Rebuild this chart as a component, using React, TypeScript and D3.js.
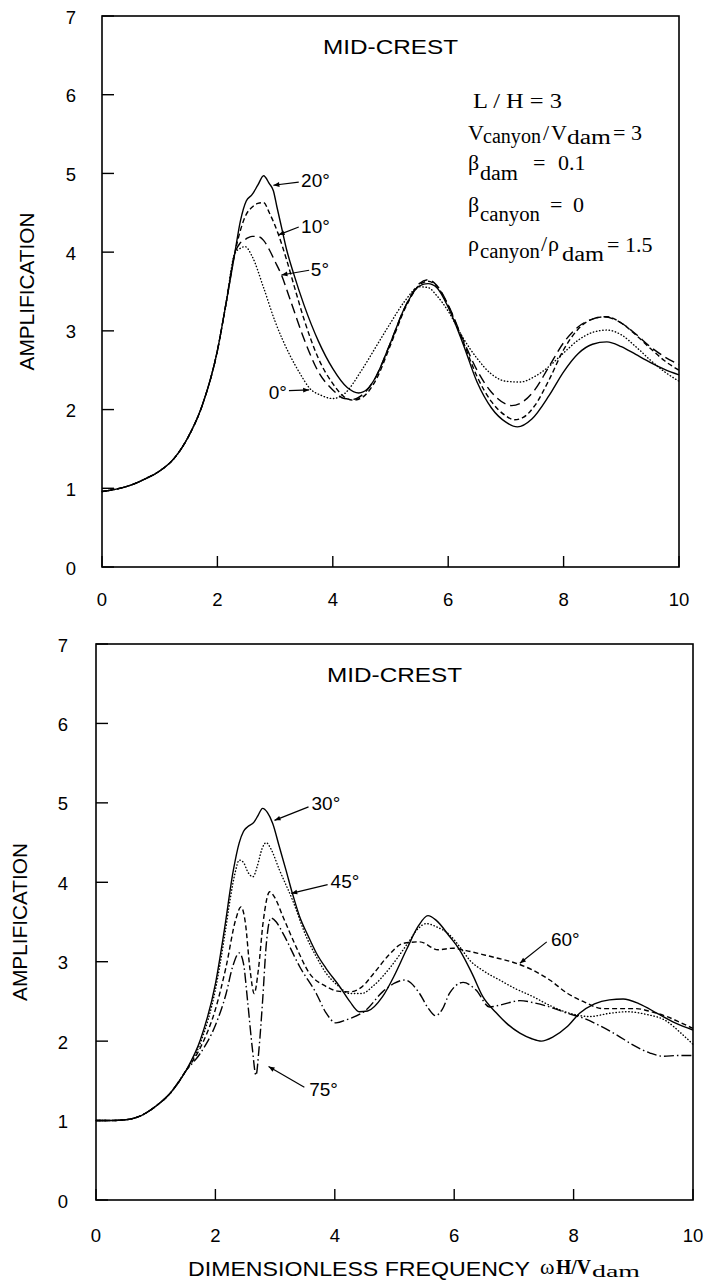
import React from 'react';
import * as d3 from 'd3';

type Pt = [number, number];

// ---------- axis ticks ----------
const xTicks = [0, 2, 4, 6, 8, 10];
const yTicks = [0, 1, 2, 3, 4, 5, 6, 7];

// ---------- top panel (angles 0, 5, 10, 20 deg) ----------
const topRise: Pt[] = [[0, 0.96], [0.25, 0.99], [0.5, 1.04], [0.75, 1.12], [1, 1.22], [1.25, 1.38], [1.5, 1.66], [1.75, 2.08], [2, 2.75], [2.15, 3.35], [2.3, 3.98]];

const top20: Pt[] = [...topRise, [2.4, 4.4], [2.5, 4.65], [2.6, 4.73], [2.7, 4.85], [2.8, 4.97], [2.9, 4.87], [2.97, 4.78], [3.03, 4.58], [3.11, 4.32], [3.2, 4.03], [3.32, 3.73], [3.5, 3.33], [3.75, 2.87], [4.0, 2.52], [4.25, 2.28], [4.45, 2.21], [4.6, 2.26], [4.75, 2.42], [5.0, 2.85], [5.25, 3.3], [5.5, 3.57], [5.65, 3.6], [5.8, 3.55], [6.0, 3.3], [6.25, 2.85], [6.5, 2.35], [6.75, 2.02], [7.0, 1.84], [7.2, 1.78], [7.45, 1.88], [7.75, 2.18], [8.0, 2.48], [8.25, 2.71], [8.5, 2.83], [8.75, 2.86], [9.0, 2.8], [9.25, 2.7], [9.5, 2.6], [9.75, 2.51], [10, 2.44]];

const top10: Pt[] = [...topRise, [2.4, 4.28], [2.5, 4.48], [2.6, 4.57], [2.7, 4.62], [2.8, 4.63], [2.9, 4.5], [3.06, 4.22], [3.2, 3.9], [3.35, 3.52], [3.5, 3.15], [3.75, 2.65], [4.0, 2.33], [4.2, 2.16], [4.35, 2.12], [4.5, 2.15], [4.75, 2.38], [5.0, 2.82], [5.25, 3.28], [5.5, 3.58], [5.65, 3.63], [5.8, 3.57], [6.0, 3.32], [6.25, 2.88], [6.5, 2.42], [6.75, 2.1], [7.0, 1.92], [7.15, 1.87], [7.3, 1.9], [7.5, 2.05], [7.75, 2.38], [8.0, 2.76], [8.25, 3.02], [8.5, 3.15], [8.75, 3.18], [9.0, 3.1], [9.25, 2.95], [9.5, 2.78], [9.75, 2.62], [10, 2.5]];

const top5: Pt[] = [...topRise, [2.4, 4.12], [2.5, 4.17], [2.6, 4.2], [2.7, 4.2], [2.8, 4.15], [2.9, 4.03], [3.0, 3.88], [3.11, 3.71], [3.25, 3.42], [3.5, 2.9], [3.75, 2.48], [4.0, 2.25], [4.2, 2.14], [4.35, 2.13], [4.5, 2.18], [4.75, 2.42], [5.0, 2.85], [5.25, 3.3], [5.5, 3.6], [5.65, 3.65], [5.8, 3.58], [6.0, 3.33], [6.25, 2.9], [6.5, 2.5], [6.75, 2.22], [7.0, 2.07], [7.1, 2.05], [7.25, 2.08], [7.5, 2.25], [7.75, 2.55], [8.0, 2.85], [8.25, 3.05], [8.5, 3.15], [8.7, 3.18], [9.0, 3.1], [9.25, 2.96], [9.5, 2.8], [9.75, 2.67], [10, 2.57]];

const top0: Pt[] = [...topRise, [2.4, 4.05], [2.48, 4.07], [2.6, 3.95], [2.8, 3.55], [3.0, 3.12], [3.25, 2.7], [3.43, 2.46], [3.6, 2.27], [3.8, 2.18], [4.0, 2.14], [4.2, 2.2], [4.5, 2.5], [4.75, 2.8], [5.0, 3.1], [5.25, 3.38], [5.5, 3.56], [5.65, 3.55], [5.8, 3.45], [6.0, 3.25], [6.25, 2.92], [6.5, 2.65], [6.75, 2.45], [7.0, 2.36], [7.25, 2.35], [7.5, 2.42], [7.75, 2.55], [8.0, 2.72], [8.25, 2.88], [8.5, 2.98], [8.75, 3.01], [9.0, 2.95], [9.25, 2.8], [9.5, 2.63], [9.75, 2.48], [10, 2.36]];

// ---------- bottom panel (angles 30, 45, 60, 75 deg) ----------
const botRise: Pt[] = [[0, 1.0], [0.25, 1.0], [0.5, 1.01], [0.75, 1.06], [1.0, 1.18], [1.25, 1.35], [1.5, 1.62]];

const b30: Pt[] = [...botRise, [1.75, 2.02], [2.0, 2.72], [2.15, 3.4], [2.3, 4.15], [2.4, 4.5], [2.47, 4.64], [2.54, 4.7], [2.65, 4.76], [2.72, 4.85], [2.79, 4.93], [2.87, 4.88], [2.96, 4.74], [3.07, 4.45], [3.18, 4.16], [3.29, 3.86], [3.41, 3.57], [3.55, 3.33], [3.69, 3.11], [3.85, 2.92], [4.08, 2.69], [4.25, 2.5], [4.41, 2.37], [4.55, 2.38], [4.8, 2.56], [5.0, 2.83], [5.2, 3.15], [5.4, 3.45], [5.56, 3.58], [5.7, 3.52], [5.92, 3.32], [6.09, 3.15], [6.3, 2.85], [6.48, 2.56], [6.7, 2.36], [6.87, 2.23], [7.1, 2.1], [7.3, 2.03], [7.46, 2.0], [7.65, 2.05], [7.89, 2.18], [8.1, 2.35], [8.35, 2.47], [8.6, 2.52], [8.83, 2.53], [9.1, 2.47], [9.4, 2.35], [9.7, 2.23], [10, 2.14]];

const b45: Pt[] = [...botRise, [1.75, 1.98], [2.0, 2.65], [2.15, 3.3], [2.25, 3.8], [2.33, 4.12], [2.4, 4.28], [2.47, 4.25], [2.55, 4.12], [2.63, 4.07], [2.7, 4.2], [2.78, 4.42], [2.85, 4.5], [2.93, 4.42], [3.07, 4.16], [3.29, 3.78], [3.52, 3.32], [3.7, 3.05], [3.85, 2.86], [4.05, 2.7], [4.25, 2.6], [4.45, 2.6], [4.65, 2.7], [4.92, 2.92], [5.22, 3.23], [5.4, 3.42], [5.53, 3.48], [5.7, 3.44], [5.92, 3.34], [6.1, 3.18], [6.26, 3.02], [6.5, 2.88], [6.76, 2.77], [7.0, 2.67], [7.32, 2.56], [7.6, 2.45], [7.94, 2.35], [8.27, 2.31], [8.6, 2.35], [8.89, 2.37], [9.2, 2.34], [9.56, 2.25], [9.8, 2.1], [10, 1.96]];

const b60: Pt[] = [...botRise, [1.75, 1.92], [2.0, 2.4], [2.18, 2.94], [2.34, 3.53], [2.43, 3.69], [2.5, 3.5], [2.58, 2.9], [2.65, 2.6], [2.72, 2.9], [2.8, 3.5], [2.91, 3.88], [3.0, 3.8], [3.13, 3.57], [3.35, 3.19], [3.57, 2.86], [3.85, 2.69], [4.05, 2.63], [4.25, 2.62], [4.45, 2.68], [4.66, 2.86], [4.9, 3.08], [5.14, 3.23], [5.42, 3.25], [5.73, 3.15], [5.98, 3.17], [6.2, 3.14], [6.48, 3.09], [6.75, 3.04], [7.04, 2.98], [7.3, 2.9], [7.6, 2.77], [7.9, 2.6], [8.16, 2.5], [8.49, 2.41], [8.8, 2.41], [9.05, 2.41], [9.3, 2.37], [9.56, 2.31], [9.8, 2.23], [10, 2.16]];

const b75: Pt[] = [...botRise, [1.75, 1.85], [2.0, 2.2], [2.18, 2.6], [2.29, 2.94], [2.4, 3.11], [2.47, 2.98], [2.54, 2.5], [2.62, 1.9], [2.68, 1.57], [2.73, 1.9], [2.79, 2.5], [2.85, 3.2], [2.93, 3.55], [3.02, 3.5], [3.13, 3.36], [3.41, 2.94], [3.69, 2.6], [3.85, 2.36], [4.02, 2.23], [4.2, 2.27], [4.52, 2.39], [4.8, 2.62], [5.0, 2.73], [5.17, 2.77], [5.42, 2.6], [5.56, 2.42], [5.69, 2.32], [5.8, 2.4], [5.92, 2.6], [6.15, 2.74], [6.37, 2.64], [6.59, 2.43], [6.8, 2.46], [7.1, 2.51], [7.35, 2.48], [7.6, 2.43], [7.9, 2.35], [8.16, 2.29], [8.45, 2.19], [8.72, 2.08], [9.0, 1.95], [9.28, 1.85], [9.5, 1.81], [9.75, 1.82], [10, 1.82]];

// ---------- styles / layout ----------
const SANS = "'Liberation Sans', Arial, Helvetica, sans-serif";
const SERIF = "'Liberation Serif', 'Times New Roman', Times, serif";

const dashes: Record<string, string | undefined> = {
  solid: undefined,
  dot: '0.4 2.8',
  dash: '5 3',
  longdash: '10 5',
  dashdot: '10 3 1.5 3',
};

type Series = { name: string; data: Pt[]; style: string };
type Label = { text: string; tx: number; ty: number; from: Pt; to: Pt };

const topSeries: Series[] = [
  { name: '0', data: top0, style: 'dot' },
  { name: '5', data: top5, style: 'longdash' },
  { name: '10', data: top10, style: 'dash' },
  { name: '20', data: top20, style: 'solid' },
];

const botSeries: Series[] = [
  { name: '30', data: b30, style: 'solid' },
  { name: '45', data: b45, style: 'dot' },
  { name: '60', data: b60, style: 'dash' },
  { name: '75', data: b75, style: 'dashdot' },
];

const topLabels: Label[] = [
  { text: '20°', tx: 3.45, ty: 4.83, from: [3.41, 4.89], to: [2.97, 4.85] },
  { text: '10°', tx: 3.45, ty: 4.24, from: [3.41, 4.32], to: [3.06, 4.22] },
  { text: '5°', tx: 3.62, ty: 3.7, from: [3.59, 3.77], to: [3.11, 3.71] },
  { text: '0°', tx: 2.89, ty: 2.13, from: [3.24, 2.24], to: [3.59, 2.25] },
];

const botLabels: Label[] = [
  { text: '30°', tx: 3.61, ty: 4.91, from: [3.56, 4.95], to: [2.99, 4.78] },
  { text: '45°', tx: 3.93, ty: 3.93, from: [3.88, 3.97], to: [3.27, 3.86] },
  { text: '60°', tx: 7.62, ty: 3.2, from: [7.55, 3.25], to: [7.1, 2.98] },
  { text: '75°', tx: 3.57, ty: 1.31, from: [3.49, 1.42], to: [2.89, 1.68] },
];

type PanelCfg = {
  left: number; right: number; top: number; bottom: number;
  yLabelX: number; xLabelY: number; yTitleX: number;
  series: Series[]; labels: Label[];
};

function Panel({ cfg }: { cfg: PanelCfg }) {
  const x = d3.scaleLinear().domain([0, 10]).range([cfg.left, cfg.right]);
  const y = d3.scaleLinear().domain([0, 7]).range([cfg.bottom, cfg.top]);
  const line = d3.line<Pt>().x(d => x(d[0])).y(d => y(d[1])).curve(d3.curveMonotoneX);
  const midX = (cfg.left + cfg.right) / 2;
  const midY = (cfg.top + cfg.bottom) / 2;
  return (
    <g>
      <rect x={cfg.left} y={cfg.top} width={cfg.right - cfg.left} height={cfg.bottom - cfg.top}
        fill="none" stroke="#000" strokeWidth={1.6} />
      {xTicks.map(t => (
        <line key={'xt' + t} x1={x(t)} x2={x(t)} y1={y(0)} y2={y(0) - 11} stroke="#000" strokeWidth={1.4} />
      ))}
      {yTicks.map(t => (
        <line key={'yt' + t} x1={x(0)} x2={x(0) + 12} y1={y(t)} y2={y(t)} stroke="#000" strokeWidth={1.4} />
      ))}
      {xTicks.map(t => (
        <text key={'xl' + t} x={x(t)} y={cfg.xLabelY} textAnchor="middle" fontFamily={SANS} fontSize={18.5}>{t}</text>
      ))}
      {yTicks.map(t => (
        <text key={'yl' + t} x={cfg.yLabelX} y={y(t) + 7.5} textAnchor="middle" fontFamily={SANS} fontSize={18.5}>{t}</text>
      ))}
      {cfg.series.map(s => (
        <path key={s.name} d={line(s.data) || ''} fill="none" stroke="#000" strokeWidth={1.4}
          strokeDasharray={dashes[s.style]} strokeLinecap={s.style === 'dot' ? 'round' : 'butt'} strokeLinejoin="round" />
      ))}
      {cfg.labels.map(l => (
        <g key={'lab' + l.text}>
          <line x1={x(l.from[0])} y1={y(l.from[1])} x2={x(l.to[0])} y2={y(l.to[1])} stroke="#000" strokeWidth={1.2}
            markerEnd="url(#arrowHead)" />
          <text x={x(l.tx)} y={y(l.ty)} fontFamily={SANS} fontSize={19}>{l.text}</text>
        </g>
      ))}
      <text x={midX} y={cfg.top + 38} textAnchor="middle" fontFamily={SANS} fontSize={21}
        textLength={135} lengthAdjust="spacingAndGlyphs">MID-CREST</text>
      <text transform={`translate(${cfg.yTitleX},${midY}) rotate(-90)`} textAnchor="middle" dy={8}
        fontFamily={SANS} fontSize={21} textLength={158} lengthAdjust="spacingAndGlyphs">AMPLIFICATION</text>
    </g>
  );
}

const topCfg: PanelCfg = {
  left: 102, right: 679, top: 16, bottom: 567,
  yLabelX: 71, xLabelY: 606, yTitleX: 26,
  series: topSeries, labels: topLabels,
};

const botCfg: PanelCfg = {
  left: 96, right: 693, top: 644, bottom: 1200,
  yLabelX: 63, xLabelY: 1242, yTitleX: 19,
  series: botSeries, labels: botLabels,
};

export default function App() {
  return (
    <svg width={713} height={1283} viewBox="0 0 713 1283"
      style={{ position: 'absolute', left: 0, top: 0, background: '#fff' }}>
      <defs>
        <marker id="arrowHead" viewBox="0 0 10 10" refX={10} refY={5} markerWidth={8} markerHeight={6}
          orient="auto" markerUnits="userSpaceOnUse">
          <path d="M0,1 L10,5 L0,9 z" fill="#000" />
        </marker>
      </defs>
      <rect x={0} y={0} width={713} height={1283} fill="#fff" />
      <Panel cfg={topCfg} />
      <Panel cfg={botCfg} />

      {/* parameter block (top panel) */}
      <g fontFamily={SERIF} fontSize={22} fill="#000">
        <text x={473} y={108} textLength={89} lengthAdjust="spacingAndGlyphs">L / H = 3</text>

        <text x={468} y={140}>V</text>
        <text x={483} y={143} fontSize={20} textLength={58} lengthAdjust="spacingAndGlyphs">canyon</text>
        <text x={543} y={140}>/</text>
        <text x={551} y={140}>V</text>
        <text x={567} y={144} fontSize={20} textLength={44} lengthAdjust="spacingAndGlyphs">dam</text>
        <text x={613} y={140}>= 3</text>

        <text x={468} y={170}>β</text>
        <text x={480} y={180} fontSize={20} textLength={38} lengthAdjust="spacingAndGlyphs">dam</text>
        <text x={533} y={170}>=</text>
        <text x={558} y={170}>0.1</text>

        <text x={468} y={212}>β</text>
        <text x={480} y={221} fontSize={20} textLength={60} lengthAdjust="spacingAndGlyphs">canyon</text>
        <text x={550} y={212}>=</text>
        <text x={573} y={212}>0</text>

        <text x={468} y={251}>ρ</text>
        <text x={480} y={258} fontSize={20} textLength={60} lengthAdjust="spacingAndGlyphs">canyon</text>
        <text x={541} y={251}>/</text>
        <text x={548} y={251}>ρ</text>
        <text x={562} y={261} fontSize={20} textLength={42} lengthAdjust="spacingAndGlyphs">dam</text>
        <text x={607} y={252}>= 1.5</text>
      </g>

      {/* x-axis title (bottom panel) */}
      <text x={188} y={1276} fontFamily={SANS} fontSize={20} textLength={342} lengthAdjust="spacingAndGlyphs">DIMENSIONLESS FREQUENCY</text>
      <text x={540} y={1274} fontFamily={SERIF} fontSize={22}>ω</text>
      <text x={556} y={1274} fontFamily={SERIF} fontSize={22} fontWeight="bold" textLength={35} lengthAdjust="spacingAndGlyphs">H/V</text>
      <text x={592} y={1277} fontFamily={SERIF} fontSize={17} textLength={48} lengthAdjust="spacingAndGlyphs">dam</text>
    </svg>
  );
}
